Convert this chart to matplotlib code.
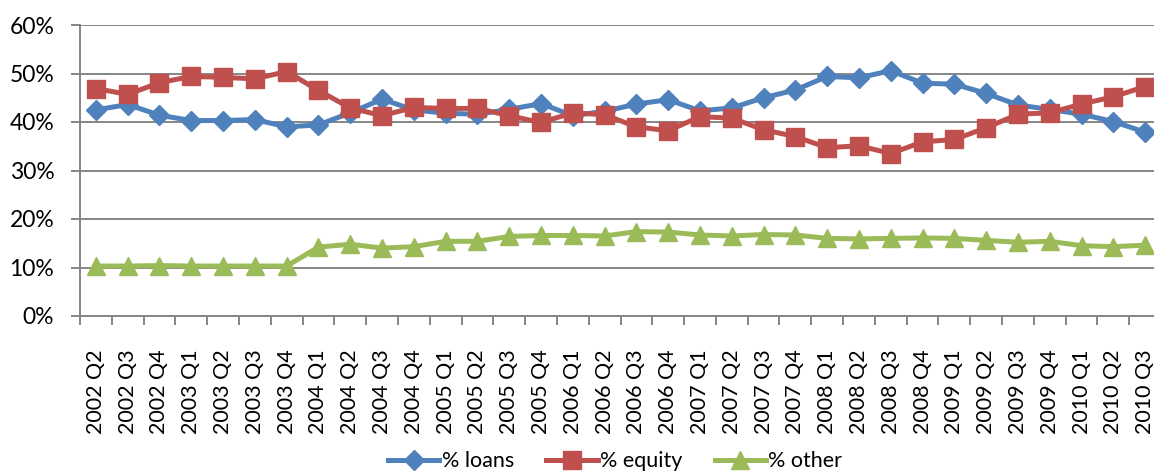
import numpy as np
import matplotlib
matplotlib.use("Agg")
import matplotlib.pyplot as plt
from matplotlib.ticker import FixedLocator, PercentFormatter

plt.rcParams['font.family'] = ['Lato', 'DejaVu Sans']

# ---- data ----
quarters = ['2002 Q2', '2002 Q3', '2002 Q4',
            '2003 Q1', '2003 Q2', '2003 Q3', '2003 Q4',
            '2004 Q1', '2004 Q2', '2004 Q3', '2004 Q4',
            '2005 Q1', '2005 Q2', '2005 Q3', '2005 Q4',
            '2006 Q1', '2006 Q2', '2006 Q3', '2006 Q4',
            '2007 Q1', '2007 Q2', '2007 Q3', '2007 Q4',
            '2008 Q1', '2008 Q2', '2008 Q3', '2008 Q4',
            '2009 Q1', '2009 Q2', '2009 Q3', '2009 Q4',
            '2010 Q1', '2010 Q2', '2010 Q3']

loans = [42.5, 43.6, 41.4, 40.3, 40.3, 40.5, 39.0, 39.4, 41.9, 44.7,
         42.5, 41.8, 41.6, 42.6, 43.8, 41.3, 42.2, 43.7, 44.6, 42.3,
         42.9, 45.0, 46.6, 49.4, 49.1, 50.6, 48.0, 47.8, 45.9, 43.5,
         42.6, 41.6, 40.1, 37.9]

equity = [46.9, 45.7, 48.1, 49.4, 49.2, 48.9, 50.4, 46.5, 42.9, 41.3,
          43.0, 42.8, 42.8, 41.3, 39.9, 41.9, 41.5, 39.0, 38.2, 41.1,
          40.8, 38.4, 37.0, 34.7, 35.1, 33.5, 35.9, 36.4, 38.8, 41.6,
          41.9, 43.7, 45.2, 47.3]

other = [10.3, 10.3, 10.4, 10.3, 10.3, 10.3, 10.3, 14.2, 14.8, 14.0,
         14.3, 15.4, 15.4, 16.4, 16.6, 16.6, 16.5, 17.4, 17.3, 16.7,
         16.5, 16.8, 16.7, 16.0, 15.9, 16.0, 16.1, 16.0, 15.6, 15.2,
         15.4, 14.5, 14.3, 14.6]

series_names = ['% loans', '% equity', '% other']

# ---- figure ----
fig = plt.figure(figsize=(11.54, 4.74), dpi=100)
ax = fig.add_axes([80 / 1154, 1 - 316 / 474, 1081 / 1154, 291 / 474])

x = np.arange(len(quarters))
grid_col = '#868686'

ax.plot(x, loans, color='#4F81BD', lw=3.6, marker='D', ms=10,
        label=series_names[0], zorder=3)
ax.plot(x, equity, color='#C0504D', lw=3.6, marker='s', ms=13,
        label=series_names[1], zorder=4)
ax.plot(x, other, color='#9BBB59', lw=3.6, marker='^', ms=13,
        label=series_names[2], zorder=3)

ax.set_xlim(-0.5, len(quarters) - 0.5)
ax.set_ylim(0, 60)
ax.yaxis.set_major_locator(FixedLocator(np.arange(0, 61, 10)))
ax.yaxis.set_major_formatter(PercentFormatter(decimals=0))
ax.grid(axis='y', color=grid_col, lw=1.4)
ax.set_axisbelow(True)

# category labels at centres, tick marks at boundaries
ax.set_xticks(x)
ax.set_xticklabels(quarters, rotation=90)
ax.set_xticks(np.arange(-0.5, len(quarters), 1), minor=True)
ax.tick_params(axis='x', which='major', length=0, pad=24, labelsize=15.5)
ax.tick_params(axis='x', which='minor', length=6.5, width=1.4,
               color=grid_col, direction='out')
ax.tick_params(axis='y', length=6.5, width=1.4, color=grid_col,
               pad=12, labelsize=16.5)

for side in ['top', 'right']:
    ax.spines[side].set_visible(False)
for side in ['left', 'bottom']:
    ax.spines[side].set_color(grid_col)
    ax.spines[side].set_linewidth(1.4)

fig.legend(loc='lower center', bbox_to_anchor=(0.533, -0.035), ncol=3,
           frameon=False, fontsize=15.5, handlelength=2.4,
           columnspacing=1.5, handletextpad=0.1)

fig.savefig('out.png', dpi=100)
